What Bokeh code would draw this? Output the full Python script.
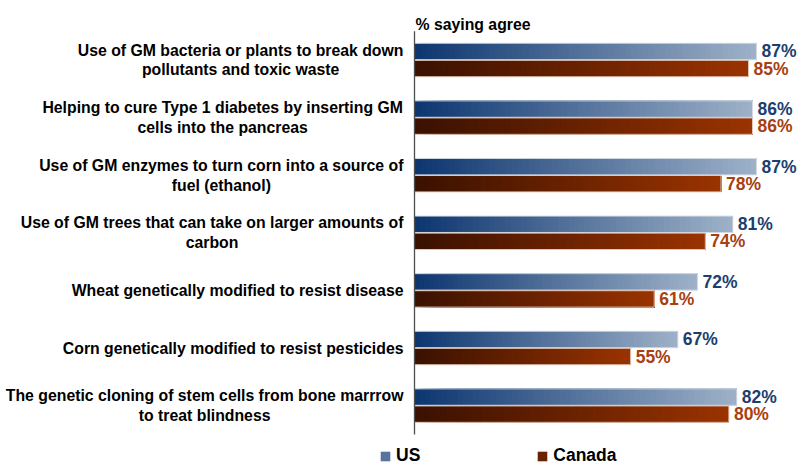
from bokeh.plotting import figure
from bokeh.models import Range1d, ColumnDataSource, Legend, LegendItem
from bokeh.core.properties import value
from bokeh.embed import file_html
from bokeh.resources import INLINE

# ---------------- data ----------------
categories = [
    "Use of GM bacteria or plants to break down\npollutants and toxic waste",
    "Helping to cure Type 1 diabetes by inserting GM\ncells into the pancreas",
    "Use of GM enzymes to turn corn into a source of\nfuel (ethanol)",
    "Use of GM trees that can take on larger amounts of\ncarbon",
    "Wheat genetically modified to resist disease",
    "Corn genetically modified to resist pesticides",
    "The genetic cloning of stem cells from bone marrrow\nto treat blindness",
]
us_values = [87, 86, 87, 81, 72, 67, 82]
canada_values = [85, 86, 78, 74, 61, 55, 80]
series_names = ["US", "Canada"]
axis_title = "% saying agree"

# ---------------- styling / layout ----------------
FONT = "Liberation Sans"
W, H = 800, 464
PX_PER_UNIT = 3.93          # pixels per percentage point
ZERO_PX = 414               # position of the value axis inside the figure
CAT_PX = 57.6               # pixels per category
FIRST_CAT_PX = 59.5         # centre of the first category inside the figure
N_SEG = 60                  # gradient slices per bar
BAR_OFF = 0.148
BAR_H = 0.285

us_dark, us_light = (12, 53, 111), (158, 177, 200)
ca_dark, ca_light = (58, 17, 0), (154, 51, 0)
us_text, ca_text = "#1C3F6E", "#A8400F"

x_range = Range1d(-ZERO_PX / PX_PER_UNIT, (W - ZERO_PX) / PX_PER_UNIT)
y_range = Range1d((H - FIRST_CAT_PX) / CAT_PX, -FIRST_CAT_PX / CAT_PX)

p = figure(width=W, height=H, x_range=x_range, y_range=y_range,
           output_backend="svg", toolbar_location=None, title=None,
           x_axis_type=None, y_axis_type=None,
           min_border=0, min_border_left=0, min_border_right=0,
           min_border_top=0, min_border_bottom=0)
p.outline_line_color = None
p.xgrid.visible = False
p.ygrid.visible = False
p.background_fill_color = "white"


def hexc(c):
    return "#%02x%02x%02x" % tuple(int(round(v)) for v in c)


def gradient_source(vals, offset, dark, light):
    # layered slices: slice k starts at k/N of the bar and runs to the bar end,
    # later slices cover earlier ones -> seamless gradient
    d = dict(left=[], right=[], top=[], bottom=[], color=[])
    for i, v in enumerate(vals):
        for k in range(N_SEG):
            t = (k + 0.5) / N_SEG
            d["left"].append(v * k / N_SEG)
            d["right"].append(v)
            d["top"].append(i + offset - BAR_H / 2)
            d["bottom"].append(i + offset + BAR_H / 2)
            d["color"].append(hexc([a + (b - a) * t for a, b in zip(dark, light)]))
    return ColumnDataSource(d)


src_us = gradient_source(us_values, -BAR_OFF, us_dark, us_light)
src_ca = gradient_source(canada_values, BAR_OFF, ca_dark, ca_light)

r_us = p.quad(left="left", right="right", top="top", bottom="bottom", source=src_us,
              fill_color="color", line_color=None)
r_ca = p.quad(left="left", right="right", top="top", bottom="bottom", source=src_ca,
              fill_color="color", line_color=None)

# outlines of bars
idx = list(range(len(categories)))
p.quad(left=[0] * len(idx), right=us_values,
       top=[i - BAR_OFF - BAR_H / 2 for i in idx], bottom=[i - BAR_OFF + BAR_H / 2 for i in idx],
       fill_alpha=0, line_color="#d3dbe5", line_width=1)
p.quad(left=[0] * len(idx), right=canada_values,
       top=[i + BAR_OFF - BAR_H / 2 for i in idx], bottom=[i + BAR_OFF + BAR_H / 2 for i in idx],
       fill_alpha=0, line_color="#e6cbbd", line_width=1)

# value labels
p.text(x=us_values, y=[i - BAR_OFF for i in idx], text=["%d%%" % v for v in us_values],
       x_offset=5, text_align="left", text_baseline="middle",
       text_font=value(FONT), text_font_style="bold", text_font_size="17.5px",
       text_color=us_text)
p.text(x=canada_values, y=[i + BAR_OFF for i in idx], text=["%d%%" % v for v in canada_values],
       x_offset=5, text_align="left", text_baseline="middle",
       text_font=value(FONT), text_font_style="bold", text_font_size="17.5px",
       text_color=ca_text)

# category axis line
p.segment(x0=[0], y0=[-0.5], x1=[0], y1=[len(categories) - 0.5],
          line_color="#4d4d4d", line_width=1.3)

# category labels (centred lines, block right-aligned to the axis)
ARIAL_BOLD = {
    " ": 278, "%": 889, "(": 333, ")": 333, "1": 556,
    "A": 722, "C": 722, "G": 778, "H": 722, "M": 833, "T": 611, "U": 722, "W": 944,
    "a": 556, "b": 611, "c": 556, "d": 611, "e": 556, "f": 333, "g": 611, "h": 611,
    "i": 278, "j": 278, "k": 556, "l": 278, "m": 889, "n": 611, "o": 611, "p": 611,
    "q": 611, "r": 389, "s": 556, "t": 333, "u": 611, "v": 556, "w": 778, "x": 556,
    "y": 556, "z": 500,
}
LABEL_SIZE = 15.8
LABEL_GAP = 11


def text_width(s, size):
    return sum(ARIAL_BOLD.get(ch, 600) for ch in s) * size / 1000.0


offsets = []
for c in categories:
    w = max(text_width(line, LABEL_SIZE) for line in c.split("\n"))
    offsets.append(-(LABEL_GAP + w / 2))

p.text(x=[0] * len(categories), y=idx, text=categories, x_offset=offsets,
       text_align="center", text_baseline="middle", text_line_height=1.17,
       text_font=value(FONT), text_font_style="bold", text_font_size="%.1fpx" % LABEL_SIZE,
       text_color="black")

# axis title
p.text(x=[0], y=[-0.5], text=[axis_title], x_offset=1, y_offset=-7,
       text_align="left", text_baseline="alphabetic",
       text_font=value(FONT), text_font_style="bold", text_font_size="15.8px",
       text_color="black")

# legend
legend = Legend(items=[LegendItem(label=series_names[0], renderers=[r_us], index=N_SEG // 2),
                       LegendItem(label=series_names[1], renderers=[r_ca], index=N_SEG // 2)],
                orientation="horizontal", location=(379, -2),
                glyph_width=12, glyph_height=12, label_standoff=5, spacing=116,
                padding=0, margin=0, border_line_alpha=0, background_fill_alpha=0,
                label_text_font=FONT, label_text_font_style="bold",
                label_text_font_size="17.5px", label_text_color="black")
p.add_layout(legend)

open("out.html", "w").write(file_html(p, INLINE))
